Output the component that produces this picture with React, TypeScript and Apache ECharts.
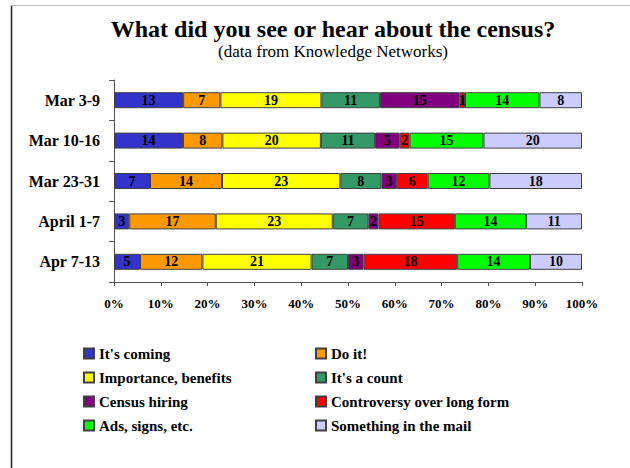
import React, { useEffect, useRef } from "react";
import * as echarts from "echarts";

const categories = ["Mar 3-9", "Mar 10-16", "Mar 23-31", "April 1-7", "Apr 7-13"];
const seriesNames = [
  "It's coming",
  "Do it!",
  "Importance, benefits",
  "It's a count",
  "Census hiring",
  "Controversy over long form",
  "Ads, signs, etc.",
  "Something in the mail",
];
const seriesColors = ["#3333CC", "#FF9900", "#FFFF00", "#339966", "#800080", "#FF0000", "#00FF00", "#CCCCFF"];
// raw values per series, one per category
const itsComing = [13, 14, 7, 3, 5];
const doIt = [7, 8, 14, 17, 12];
const importance = [19, 20, 23, 23, 21];
const itsACount = [11, 11, 8, 7, 7];
const censusHiring = [15, 5, 3, 2, 3];
const controversy = [1, 2, 6, 15, 18];
const adsSigns = [14, 15, 12, 14, 14];
const mail = [8, 20, 18, 11, 10];
const xTicks = ["0%", "10%", "20%", "30%", "40%", "50%", "60%", "70%", "80%", "90%", "100%"];

const FONT = "'Liberation Serif', 'Times New Roman', serif";

export default function App() {
  const ref = useRef<HTMLDivElement>(null);
  useEffect(() => {
    if (!ref.current) return;
    const chart = echarts.init(ref.current, undefined, { renderer: "svg" });
    const raw = [itsComing, doIt, importance, itsACount, censusHiring, controversy, adsSigns, mail];
    const totals = categories.map((_, i) => raw.reduce((s, arr) => s + arr[i], 0));
    const series = raw.map((arr, k) => ({
      name: seriesNames[k],
      type: "bar",
      stack: "total",
      barWidth: 16,
      data: arr.map((v, i) => ({ value: (v / totals[i]) * 100, raw: v })),
      itemStyle: { color: seriesColors[k], borderColor: "#404040", borderWidth: 1 },
      label: {
        show: true,
        position: "inside",
        color: "#000",
        fontFamily: FONT,
        fontWeight: "bold",
        fontSize: 14,
        formatter: (p: any) => String(p.data.raw),
      },
    }));
    const legendText = { fontFamily: FONT, fontWeight: "bold", fontSize: 15, color: "#000", lineHeight: 14 };
    const legendBase = {
      orient: "vertical",
      top: 346,
      padding: 0,
      itemWidth: 10,
      itemHeight: 10,
      itemGap: 9,
      icon: "rect",
      textStyle: legendText,
    };
    const option: any = {
      animation: false,
      backgroundColor: "#fff",
      grid: { left: 114, right: 48, top: 80, bottom: 186, containLabel: false, outerBoundsMode: "none" },
      xAxis: {
        type: "value",
        min: 0,
        max: 100,
        interval: 10,
        axisLine: { show: true, lineStyle: { color: "#555", width: 1 } },
        axisTick: { show: true, length: 4, lineStyle: { color: "#555" } },
        splitLine: { show: false },
        axisLabel: {
          margin: 15,
          color: "#000",
          fontFamily: FONT,
          fontWeight: "bold",
          fontSize: 13,
          formatter: (v: number) => xTicks[Math.round(v / 10)],
        },
      },
      yAxis: {
        type: "category",
        inverse: true,
        data: categories,
        axisLine: { show: true, lineStyle: { color: "#555", width: 1 } },
        axisTick: { show: true, length: 5, lineStyle: { color: "#555" } },
        axisLabel: { margin: 14, color: "#000", fontFamily: FONT, fontWeight: "bold", fontSize: 16 },
      },
      legend: [
        { ...legendBase, left: 83, data: [seriesNames[0], seriesNames[2], seriesNames[4], seriesNames[6]] },
        { ...legendBase, left: 315, data: [seriesNames[1], seriesNames[3], seriesNames[5], seriesNames[7]] },
      ],
      graphic: [
        { type: "line", shape: { x1: 11.5, y1: 5, x2: 11.5, y2: 468 }, style: { stroke: "#222", lineWidth: 1.5 } },
        { type: "line", shape: { x1: 11, y1: 5.5, x2: 630, y2: 5.5 }, style: { stroke: "#bbb", lineWidth: 1 } },
        {
          type: "text",
          x: 333,
          y: 29,
          style: {
            text: "What did you see or hear about the census?",
            fontFamily: FONT,
            fontWeight: "bold",
            fontSize: 24,
            fill: "#000",
            textAlign: "center",
            textVerticalAlign: "middle",
          },
        },
        {
          type: "text",
          x: 333,
          y: 51,
          style: {
            text: "(data from Knowledge Networks)",
            fontFamily: FONT,
            fontSize: 17,
            fill: "#000",
            textAlign: "center",
            textVerticalAlign: "middle",
          },
        },
      ],
      series,
    };
    chart.setOption(option);
    return () => chart.dispose();
  }, []);
  return <div ref={ref} style={{ position: "fixed", left: 0, top: 0, width: 630, height: 468 }} />;
}
